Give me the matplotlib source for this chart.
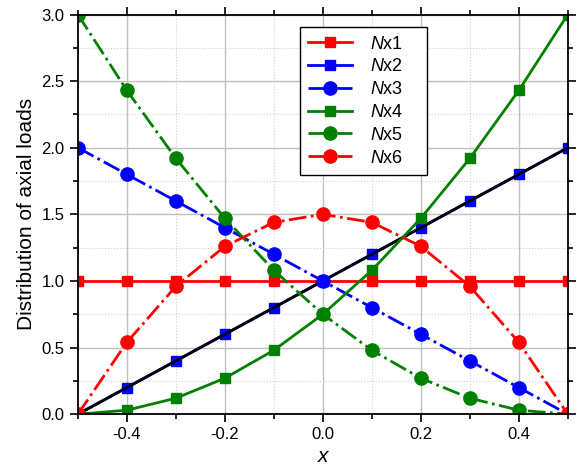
import matplotlib
matplotlib.use('Agg')
import matplotlib.pyplot as plt
from matplotlib.ticker import MultipleLocator

plt.rcParams['font.family'] = ['Liberation Sans', 'DejaVu Sans']
plt.rcParams['mathtext.fontset'] = 'custom'
plt.rcParams['mathtext.it'] = 'Liberation Sans:italic'
plt.rcParams['mathtext.rm'] = 'Liberation Sans'

x = [-0.5, -0.4, -0.3, -0.2, -0.1, 0.0, 0.1, 0.2, 0.3, 0.4, 0.5]
nx1 = [1.0, 1.0, 1.0, 1.0, 1.0, 1.0, 1.0, 1.0, 1.0, 1.0, 1.0]
nx2 = [0.0, 0.2, 0.4, 0.6, 0.8, 1.0, 1.2, 1.4, 1.6, 1.8, 2.0]
nx3 = [2.0, 1.8, 1.6, 1.4, 1.2, 1.0, 0.8, 0.6, 0.4, 0.2, 0.0]
nx4 = [0.0, 0.03, 0.12, 0.27, 0.48, 0.75, 1.08, 1.47, 1.92, 2.43, 3.0]
nx5 = [3.0, 2.43, 1.92, 1.47, 1.08, 0.75, 0.48, 0.27, 0.12, 0.03, 0.0]
nx6 = [0.0, 0.54, 0.96, 1.26, 1.44, 1.5, 1.44, 1.26, 0.96, 0.54, 0.0]

fig = plt.figure(figsize=(5.77, 4.68), dpi=100)
ax = fig.add_axes([0.135, 0.115, 0.849, 0.854])

lw = 2
sq, ci = 6.5, 9.5
pad = '    '
ax.plot(x, nx1, color='red', ls='-', lw=lw, marker='s', ms=sq, label='$N$x1' + pad)
ax.plot(x, nx2, color='blue', ls='-', lw=lw, marker='s', ms=sq, label='$N$x2' + pad)
# straight black line drawn over Nx2
ax.plot(x, nx2, color='black', ls='-', lw=lw)
ax.plot(x, nx3, color='blue', ls='-.', lw=lw, marker='o', ms=ci, label='$N$x3' + pad)
ax.plot(x, nx4, color='green', ls='-', lw=lw, marker='s', ms=sq, label='$N$x4' + pad)
ax.plot(x, nx5, color='green', ls='-.', lw=lw, marker='o', ms=ci, label='$N$x5' + pad)
ax.plot(x, nx6, color='red', ls='-.', lw=lw, marker='o', ms=ci, label='$N$x6' + pad)

ax.set_xlim(-0.5, 0.5)
ax.set_ylim(0, 3.0)
ax.xaxis.set_minor_locator(MultipleLocator(0.1))
ax.yaxis.set_minor_locator(MultipleLocator(0.25))
ax.set_xticks([-0.4, -0.2, 0.0, 0.2, 0.4])
ax.set_xticklabels(['-0.4', '-0.2', '0.0', '0.2', '0.4'])
ax.set_yticks([0.0, 0.5, 1.0, 1.5, 2.0, 2.5, 3.0])
ax.set_yticklabels(['0.0', '0.5', '1.0', '1.5', '2.0', '2.5', '3.0'])

ax.grid(which='major', color='#c0c0c0', lw=1, ls='-')
ax.grid(which='minor', color='#d0d0d0', lw=0.8, ls=':')
ax.set_axisbelow(True)

ax.tick_params(which='both', direction='out', top=True, right=True, labelsize=12, width=1.2)
ax.tick_params(which='major', length=6)
ax.tick_params(which='minor', length=3.5)
for s in ax.spines.values():
    s.set_linewidth(1.3)

ax.set_xlabel('x', fontsize=15, fontstyle='italic', labelpad=3)
ax.set_ylabel('Distribution of axial loads', fontsize=15, labelpad=4)

ax.legend(loc='upper right', bbox_to_anchor=(0.712, 0.9675), borderaxespad=0,
          fontsize=13, fancybox=False, edgecolor='black', framealpha=1,
          handlelength=2.45, borderpad=0.45, labelspacing=0.32, handletextpad=0.95)

fig.savefig('out.png', dpi=100)
